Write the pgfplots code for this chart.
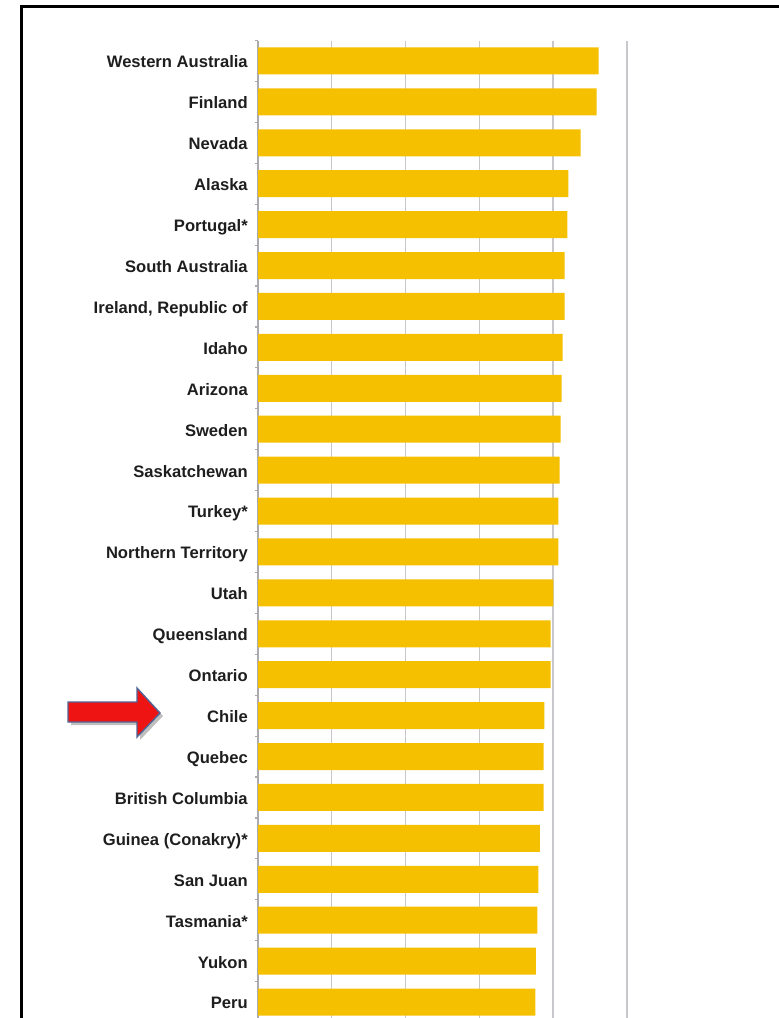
\documentclass[border=0pt]{standalone}
\usepackage{fontspec}
\setmainfont{Liberation Sans}
\usepackage{pgfplots}
\pgfplotsset{compat=1.18}

\definecolor{baryellow}{RGB}{244,192,0}
\definecolor{gridgray}{RGB}{200,200,204}
\definecolor{axisgray}{RGB}{170,170,175}
\definecolor{labeltext}{RGB}{30,30,30}
\definecolor{arrowred}{RGB}{238,20,20}
\definecolor{arrowedge}{RGB}{80,100,150}

\begin{document}
\begin{tikzpicture}
  % 1px of the reference = 0.5pt, origin at the top left
  \begin{axis}[
      at={(129pt,-511.25pt)}, anchor=south west,
      scale only axis, width=184.5pt, height=491pt,
      xbar,
      xmin=0, xmax=5, ymin=-0.5, ymax=23.5,
      y dir=reverse,
      axis lines*=left,
      axis line style={axisgray, line width=0.7pt},
      xtick={0,...,5}, xticklabels={},
      xmajorgrids, grid style={gridgray, line width=0.7pt},
      ytick={0,...,23},
      minor ytick={-0.5,0.5,...,23.5},
      major tick length=0pt, minor tick length=1.5pt,
      tick align=outside,
      minor tick style={axisgray, line width=0.6pt},
      yticklabel style={font=\fontsize{8.3}{10}\selectfont\bfseries,
        text=labeltext, anchor=east, text height=1.6ex, text depth=0.3ex,
        xshift=-1.6pt},
      yticklabels={Western Australia, Finland, Nevada, Alaska, Portugal*,
        South Australia, {Ireland, Republic of}, Idaho, Arizona, Sweden,
        Saskatchewan, Turkey*, Northern Territory, Utah, Queensland, Ontario,
        Chile, Quebec, British Columbia, Guinea (Conakry)*, San Juan,
        Tasmania*, Yukon, Peru},
    ]
    \addplot[fill=baryellow, draw=none, bar width=0.66] coordinates {
      (4.617,0) (4.589,1) (4.373,2) (4.205,3) (4.191,4) (4.156,5)
      (4.156,6) (4.129,7) (4.115,8) (4.102,9) (4.088,10) (4.069,11)
      (4.069,12) (4.001,13) (3.966,14) (3.966,15) (3.879,16) (3.871,17)
      (3.871,18) (3.821,19) (3.798,20) (3.785,21) (3.767,22) (3.757,23)
    };
  \end{axis}
  \begin{scope}[x=0.5pt,y=-0.5pt]
    % frame of the slide
    \draw[line width=1.5pt] (21,1040) -- (21,6) -- (800,6);
    % red arrow pointing at Chile
    \fill[black, opacity=0.25] (71,705) -- (140,705) -- (140,691) -- (163,716)
      -- (140,740) -- (140,725) -- (71,725) -- cycle;
    \draw[fill=arrowred, draw=arrowedge, line width=0.7pt, line join=miter]
      (68,702) -- (137,702) -- (137,688) -- (160,713) -- (137,737)
      -- (137,722) -- (68,722) -- cycle;
    \pgfresetboundingbox
    \useasboundingbox (0,0) rectangle (779,1018);
  \end{scope}
\end{tikzpicture}
\end{document}
